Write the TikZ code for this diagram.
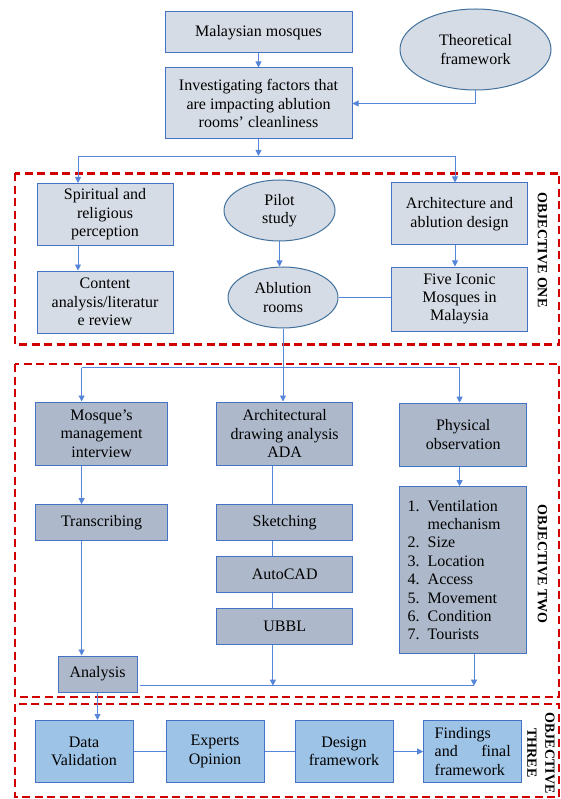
\documentclass[tikz,border=0pt]{standalone}
\usepackage{fontspec}
\setmainfont{Liberation Serif}
\usepackage{xcolor}
\usepackage{tikz}
\usetikzlibrary{shapes,arrows.meta,positioning,calc}
\definecolor{topfill}{HTML}{D6DCE5}
\definecolor{midfill}{HTML}{ADB9CA}
\definecolor{lowfill}{HTML}{9DC3E6}
\definecolor{boxline}{HTML}{4472C4}
\definecolor{ovalline}{HTML}{41719C}
\definecolor{linkblue}{HTML}{5686DA}
\definecolor{objred}{HTML}{D00000}

\begin{document}
\begin{tikzpicture}[
  x=1pt, y=-1pt,
  box/.style={rectangle, draw=boxline, line width=1pt, align=center,
              font={\fontsize{16}{18.4}\selectfont}, inner sep=2pt},
  topbox/.style={box, fill=topfill, minimum width=136pt, minimum height=62pt},
  midbox/.style={box, fill=midfill, minimum width=136pt, minimum height=36pt},
  lowbox/.style={box, fill=lowfill, minimum width=98pt, minimum height=62pt},
  oval/.style={ellipse, draw=ovalline, line width=1pt, fill=topfill, align=center,
               font={\fontsize{16}{18.4}\selectfont}, inner sep=0pt},
  arrow/.style={-{Triangle[length=6pt,width=6pt]}, draw=linkblue, line width=0.9pt},
  joinline/.style={draw=linkblue, line width=0.9pt},
  objframe/.style={draw=objred, line width=2.6pt, dash pattern=on 8pt off 4.5pt},
  objlabel/.style={rotate=-90, font={\fontsize{14}{18}\selectfont\bfseries}, align=center}
]
\useasboundingbox (0,0) rectangle (561,799);

% Objective frames
\draw[objframe] (15,173.5) rectangle (559,344.5);
\draw[objframe] (15,364) rectangle (559,697);
\draw[objframe] (15,704) rectangle (559,797);

% Top
\node[topbox, minimum width=187pt, minimum height=41pt] (mosques) at (258.5,32.5) {Malaysian mosques};
\node[topbox, minimum width=187pt, minimum height=71pt] (invest) at (258.5,103.5) {
  Investigating factors that\\
  are impacting ablution\\
  rooms' cleanliness
};
\node[oval, minimum width=151pt, minimum height=81pt] (theory) at (475.5,49.5) {Theoretical\\framework};

% Objective one
\node[topbox] (spirit) at (105,214.5) {Spiritual and\\religious\\perception};
\node[topbox] (content) at (105,302) {Content\\analysis/literatur\\e review};
\node[oval, minimum width=111pt, minimum height=61pt] (pilot) at (279.5,210.5) {Pilot\\study};
\node[oval, minimum width=110pt, minimum height=61pt] (ablution) at (283,297.5) {Ablution\\rooms};
\node[topbox] (archi) at (459.5,214) {Architecture and\\ablution design};
\node[topbox, minimum height=64pt] (five) at (459.5,299) {Five Iconic\\Mosques in\\Malaysia};
\node[objlabel] (objone) at (542.5,250) {OBJECTIVE ONE};

% Objective two
\node[midbox, minimum width=131.6pt, minimum height=63pt] (interview) at (101.6,433.5) {Mosque's\\management\\interview};
\node[midbox, minimum height=63pt] (ada) at (284.7,433.5) {Architectural\\drawing analysis\\ADA};
\node[midbox, minimum width=127.5pt, minimum height=63pt] (physical) at (463.2,434.7) {Physical\\observation};
\node[midbox, minimum width=131.6pt] (transcr) at (101.6,522.7) {Transcribing};
\node[midbox] (sketch) at (284.7,522.7) {Sketching};
\node[midbox] (autocad) at (284.7,574.5) {AutoCAD};
\node[midbox] (ubbl) at (284.7,626.2) {UBBL};
\node[midbox, minimum width=127.5pt, minimum height=166.6pt, text width=111pt, align=left] (list) at (463.2,570) {
  1.\enspace Ventilation\\
  \hphantom{1.\enspace}mechanism\\
  2.\enspace Size\\
  3.\enspace Location\\
  4.\enspace Access\\
  5.\enspace Movement\\
  6.\enspace Condition\\
  7.\enspace Tourists
};
\node[midbox, minimum width=79pt, minimum height=36pt] (analysis) at (97.5,674) {Analysis};
\node[objlabel] (objtwo) at (542.5,564) {OBJECTIVE TWO};

% Objective three
\node[lowbox] (valid) at (84,751.5) {Data\\Validation};
\node[lowbox] (experts) at (215,751.5) {Experts\\Opinion};
\node[lowbox] (design) at (344,751.5) {Design\\framework};
\node[lowbox, text width=76pt, align=left] (findings) at (472.7,751.5) {Findings\\and\hfill final\\framework};
\node[objlabel] (objthree) at (541,753) {OBJECTIVE\\THREE};

% Connectors, top
\coordinate (splitL) at (78,156);
\coordinate (splitR) at (455,156);
\draw[arrow] (mosques) -- (invest);
\draw[arrow] (theory.south) |- (invest.east);
\draw[arrow] (invest.south) -- (invest.south |- splitL);
\draw[joinline] (splitL) -- (splitR);
\draw[arrow] (splitL) -- (splitL |- spirit.north);
\draw[arrow] (splitR) -- (splitR |- archi.north);
\draw[arrow] (splitL |- spirit.south) -- (splitL |- content.north);
\draw[arrow] (splitR |- archi.south) -- (splitR |- five.north);
\draw[arrow] (pilot.south) -- (pilot.south |- ablution.north);
\draw[joinline] (ablution.east) -- (ablution.east -| five.west);

% Connectors, objective two
\coordinate (splitA) at (81.6,367.7);
\coordinate (splitC) at (459.6,367.7);
\draw[joinline] (ablution.south) -- (ablution.south |- splitA);
\draw[joinline] (splitA) -- (splitC);
\draw[arrow] (splitA) -- (splitA |- interview.north);
\draw[arrow] (ablution.south |- splitA) -- (ablution.south |- ada.north);
\draw[arrow] (splitC) -- (splitC |- physical.north);
\draw[arrow] (splitA |- interview.south) -- (splitA |- transcr.north);
\draw[arrow] (splitA |- transcr.south) -- (splitA |- analysis.north);
\coordinate (joinB) at (272.9,685.7);
\coordinate (joinR) at (474,685.7);
\draw[joinline] (joinB |- ada.south) -- (joinB |- sketch.north);
\draw[joinline] (joinB |- sketch.south) -- (joinB |- autocad.north);
\draw[joinline] (joinB |- autocad.south) -- (joinB |- ubbl.north);
\draw[arrow] (joinB |- ubbl.south) -- (joinB);
\draw[arrow] (splitC |- physical.south) -- (splitC |- list.north);
\draw[arrow] (joinR |- list.south) -- (joinR);
\draw[joinline] ([xshift=2pt]analysis.east |- joinR) -- (joinR);

% Connectors, objective three
\draw[arrow] (analysis) -- (analysis |- valid.north);
\draw[joinline] (valid) -- (experts);
\draw[joinline] (experts) -- (design);
\draw[arrow] (design) -- (findings);

\end{tikzpicture}
\end{document}
